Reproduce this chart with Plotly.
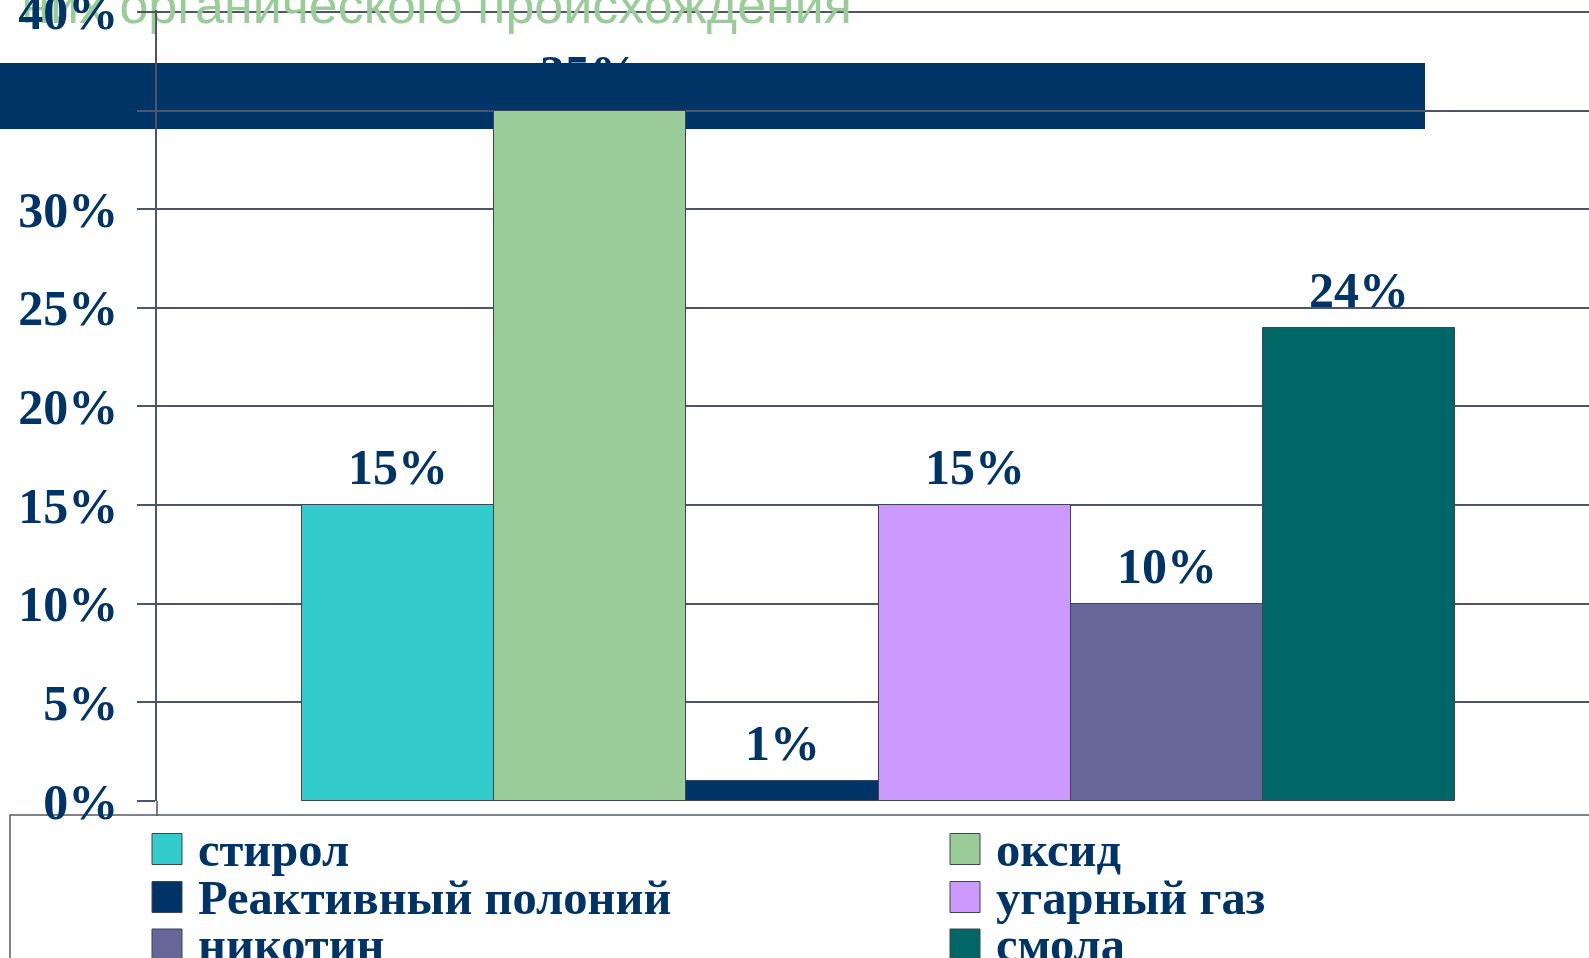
import plotly.graph_objects as go

# ---- data ----
names = ["стирол", "оксид", "Реактивный полоний", "угарный газ", "никотин", "смола"]
values = [15, 35, 1, 15, 10, 24]
colors = ["#33CCCC", "#99CC99", "#003366", "#CC99FF", "#666699", "#006666"]
title_text = "них органического происхождения"
y_ticks = [0, 5, 10, 15, 20, 25, 30, 35, 40]
y_ticklabels = [f"{t}%" for t in y_ticks]

# ---- geometry (pixels) ----
W, H = 1589, 958
ML, MR, MT, MB = 157, 0, 10, 157
PW, PH = W - ML - MR, H - MT - MB

def px(x):
    return (x - ML) / PW

def py(y):
    return (H - MB - y) / PH

NAVY = "#003366"
GRID = "#4f5566"
SERIF = "Liberation Serif"

fig = go.Figure()
fig.add_trace(go.Bar(
    x=names, y=values,
    marker=dict(color=colors, line=dict(color="#3a4656", width=1)),
    width=1, showlegend=False, hoverinfo="x+y",
))

# partially visible heading, drawn beneath the axis labels (as in the original slide);
# anchored at its right end on the top edge of the plot area
fig.add_trace(go.Scatter(
    x=[px(852)], y=[1.0], xaxis="x2", yaxis="y2", mode="text",
    text=[title_text], textposition="middle left", cliponaxis=False,
    textfont=dict(family="Liberation Sans", size=52, color="#99CC99"),
    showlegend=False, hoverinfo="skip",
))

annotations = []
# data labels
for n, v in zip(names, values):
    annotations.append(dict(
        x=n, y=v, xref="x", yref="y", text=f"{v}%", showarrow=False,
        yanchor="bottom", xanchor="center", yshift=8,
        font=dict(family=SERIF, size=50, color=NAVY, weight="bold"),
    ))

shapes = []
# dark band behind chart
shapes.append(dict(type="rect", xref="paper", yref="paper",
                   x0=px(-5), x1=px(1425), y0=py(129), y1=py(63),
                   fillcolor=NAVY, line=dict(width=0), layer="below"))
# legend box
shapes.append(dict(type="rect", xref="paper", yref="paper",
                   x0=px(10), x1=px(1700), y0=py(1100), y1=py(815),
                   fillcolor="rgba(0,0,0,0)", line=dict(color="#555a66", width=1.5),
                   layer="below"))
# axis line extension below zero
shapes.append(dict(type="line", xref="paper", yref="paper",
                   x0=0, x1=0, y0=py(801), y1=py(816),
                   line=dict(color=GRID, width=1.5)))

# manual legend (two columns, row-major)
col_x = [152, 950]
row_y = [849, 897, 944.5]
for i, (n, c) in enumerate(zip(names, colors)):
    r, k = divmod(i, 2)
    x0 = col_x[k]
    yc = row_y[r]
    shapes.append(dict(type="rect", xref="paper", yref="paper",
                       x0=px(x0), x1=px(x0 + 30), y0=py(yc + 15.5), y1=py(yc - 15.5),
                       fillcolor=c, line=dict(color="#3a4656", width=1), layer="above"))
    annotations.append(dict(
        x=px(x0 + 44), y=py(yc), xref="paper", yref="paper", text=n,
        showarrow=False, xanchor="left", yanchor="middle",
        font=dict(family=SERIF, size=48.5, color=NAVY, weight="bold"),
    ))

fig.update_layout(
    width=W, height=H,
    margin=dict(l=ML, r=MR, t=MT, b=MB, pad=0, autoexpand=False),
    paper_bgcolor="white", plot_bgcolor="rgba(0,0,0,0)",
    bargap=0,
    xaxis=dict(range=[-1.254, 6.196], showticklabels=False, showgrid=False,
               zeroline=False, showline=False, ticks="", automargin=False),
    yaxis=dict(range=[0, 40.1], tickmode="array", tickvals=y_ticks, ticktext=y_ticklabels,
               showgrid=True, gridcolor=GRID, gridwidth=1.5, automargin=False,
               zeroline=False, showline=True, linecolor=GRID, linewidth=1.5,
               ticks="outside", ticklen=18, tickcolor=GRID, tickwidth=1.5,
               ticklabelstandoff=9, ticklabeloverflow="allow",
               tickfont=dict(family=SERIF, size=50, color=NAVY, weight="bold")),
    xaxis2=dict(overlaying="x", range=[0, 1], visible=False, automargin=False),
    yaxis2=dict(overlaying="y", range=[0, 1], visible=False, automargin=False),
    annotations=annotations, shapes=shapes,
    showlegend=False,
)

fig.write_html("out.html", config={"displayModeBar": False},
               post_script="document.body.style.margin='0';document.body.style.overflow='hidden';")
